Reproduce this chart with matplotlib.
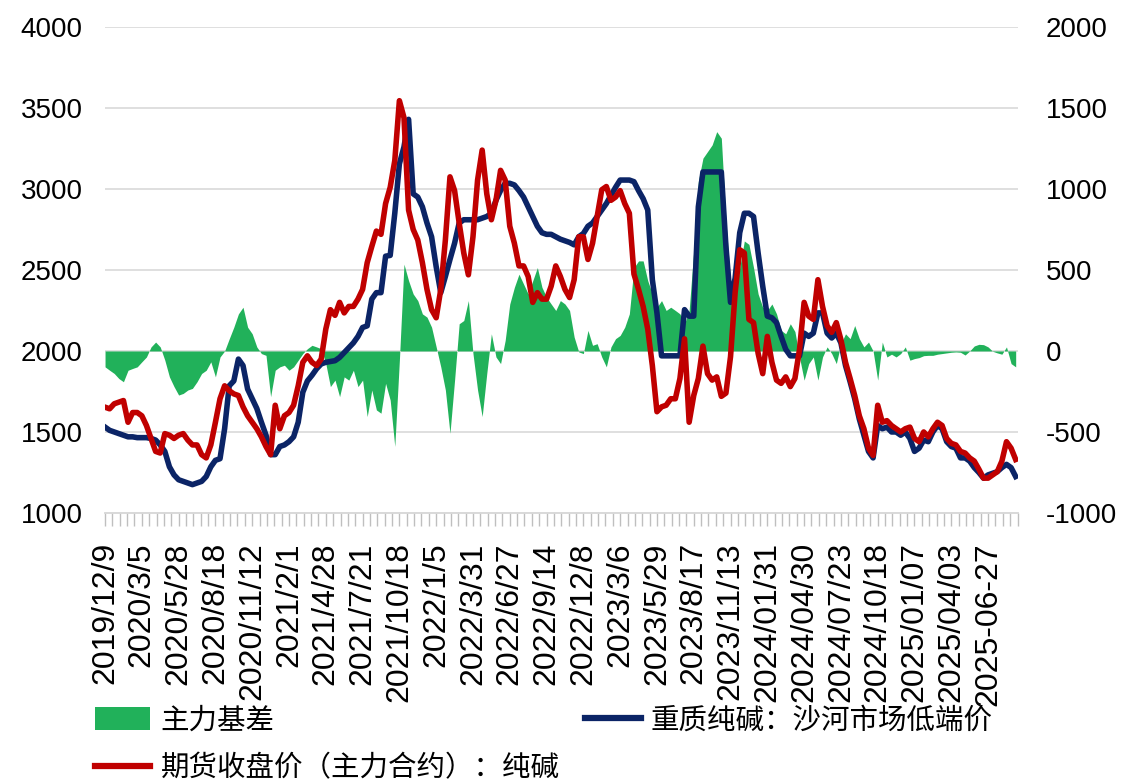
import numpy as np
import matplotlib.pyplot as plt
from matplotlib.patches import Patch
from matplotlib.lines import Line2D

plt.rcParams['font.family'] = ['Liberation Sans', 'Noto Sans CJK SC']
plt.rcParams['axes.unicode_minus'] = False

# category labels shown on the x axis (one every 8 points)
date_labels = ['2019/12/9', '2020/3/5', '2020/5/28', '2020/8/18', '2020/11/12',
               '2021/2/1', '2021/4/28', '2021/7/21', '2021/10/18', '2022/1/5',
               '2022/3/31', '2022/6/27', '2022/9/14', '2022/12/8', '2023/3/6',
               '2023/5/29', '2023/8/17', '2023/11/13', '2024/01/31', '2024/04/30',
               '2024/07/23', '2024/10/18', '2025/01/07', '2025/04/03', '2025-06-27']

# 重质纯碱：沙河市场低端价 (left axis)
spot = [1530, 1510, 1500, 1490, 1480, 1470, 1470, 1465, 1465, 1465,
        1460, 1450, 1420, 1380, 1285, 1235, 1205, 1195, 1185, 1175,
        1185, 1195, 1225, 1285, 1325, 1335, 1520, 1785, 1815, 1950,
        1910, 1765, 1705, 1645, 1560, 1480, 1360, 1360, 1410, 1420,
        1440, 1470, 1560, 1745, 1815, 1850, 1890, 1920, 1930, 1935,
        1940, 1960, 1990, 2020, 2050, 2090, 2145, 2155, 2320, 2360,
        2360, 2585, 2590, 2850, 3155, 3260, 3430, 2970, 2950, 2890,
        2790, 2705, 2520, 2360, 2460, 2565, 2665, 2790, 2810, 2810,
        2810, 2810, 2820, 2830, 2850, 2930, 2990, 3035, 3035, 3025,
        2990, 2950, 2890, 2830, 2770, 2730, 2720, 2720, 2705, 2690,
        2680, 2670, 2655, 2705, 2725, 2770, 2790, 2830, 2870, 2910,
        2960, 3010, 3055, 3055, 3055, 3045, 2990, 2940, 2870, 2440,
        2235, 1970, 1970, 1970, 1970, 1970, 2255, 2215, 2215, 2890,
        3105, 3105, 3105, 3105, 3105, 2645, 2300, 2450, 2730, 2850,
        2850, 2830, 2605, 2400, 2215, 2205, 2175, 2090, 2010, 1970,
        1970, 1970, 2110, 2090, 2110, 2235, 2235, 2110, 2080, 2110,
        2050, 1910, 1810, 1705, 1580, 1480, 1380, 1340, 1540, 1520,
        1530, 1500, 1500, 1480, 1500, 1460, 1380, 1400, 1450, 1440,
        1500, 1540, 1520, 1440, 1410, 1400, 1340, 1340, 1320, 1280,
        1250, 1215, 1235, 1245, 1255, 1280, 1300, 1280, 1225]

# 期货收盘价（主力合约）：纯碱 (left axis)
futures = [1653, 1643, 1674, 1684, 1694, 1560, 1620, 1620, 1600, 1540,
           1460, 1380, 1370, 1490, 1480, 1460, 1480, 1490, 1450, 1420,
           1420, 1360, 1340, 1420, 1560, 1705, 1785, 1755, 1735, 1725,
           1655, 1600, 1560, 1520, 1470, 1410, 1360, 1665, 1520, 1600,
           1620, 1665, 1785, 1930, 1970, 1930, 1910, 1950, 2135, 2255,
           2220, 2300, 2235, 2275, 2275, 2320, 2380, 2545, 2645, 2740,
           2720, 2910, 3010, 3175, 3545, 3440, 2870, 2750, 2685, 2545,
           2380, 2255, 2205, 2380, 2685, 3075, 2990, 2790, 2605, 2470,
           2705, 3055, 3240, 2970, 2810, 2930, 3115, 3055, 2770, 2665,
           2525, 2525, 2460, 2300, 2360, 2320, 2320, 2400, 2525, 2460,
           2380, 2330, 2440, 2705, 2705, 2565, 2665, 2830, 2995, 3015,
           2930, 2950, 2990, 2910, 2850, 2475, 2380, 2275, 2135, 1910,
           1625, 1655, 1665, 1705, 1705, 1830, 2075, 1560, 1725, 1830,
           2030, 1860, 1820, 1840, 1720, 1740, 1965, 2360, 2625, 2605,
           2195, 2175, 1985, 1860, 2090, 1930, 1820, 1800, 1840, 1780,
           1830, 2010, 2300, 2215, 2195, 2440, 2275, 2155, 2115, 2175,
           2070, 1930, 1830, 1725, 1600, 1520, 1400, 1355, 1665, 1560,
           1570, 1540, 1520, 1500, 1520, 1530, 1460, 1440, 1500, 1470,
           1520, 1560, 1540, 1460, 1430, 1420, 1380, 1370, 1340, 1320,
           1270, 1215, 1215, 1235, 1255, 1320, 1440, 1400, 1330]

# 主力基差 (right axis)
basis = [-98, -119, -139, -170, -190, -119, -108, -98, -67, -37,
         25, 55, 25, -57, -160, -220, -272, -262, -241, -231,
         -190, -139, -119, -67, -160, -37, 0, 75, 147, 229,
         270, 147, 106, 25, -16, -27, -282, -119, -98, -88,
         -119, -98, -57, -16, 14, 35, 25, 14, -78, -220,
         -180, -282, -160, -180, -119, -220, -180, -405, -241, -364,
         -384, -200, -303, -589, -57, 536, 434, 352, 311, 229,
         209, 147, 25, -98, -241, -508, -180, 168, 188, 311,
         -16, -241, -405, -139, 106, -37, -78, 65, 290, 393,
         474, 413, 352, 434, 515, 393, 331, 290, 250, 311,
         290, 250, 86, -6, -16, 127, 35, 45, -37, -98,
         25, 76, 96, 147, 229, 515, 556, 556, 434, 352,
         270, 311, 250, 270, 250, 229, 168, 250, 618, 1047,
         1190, 1231, 1272, 1354, 1313, 802, 434, 331, 515, 679,
         658, 515, 352, 270, 250, 290, 229, 127, 106, 168,
         120, -40, -180, -78, -37, -180, -37, 25, -16, -78,
         45, 106, 76, 157, 76, 25, 55, 0, -180, 55,
         -37, -20, -37, -16, 25, -57, -47, -41, -29, -27,
         -27, -20, -16, -12, -8, -6, -8, -25, 0, 31,
         41, 39, 25, -2, -12, -20, 25, -78, -98]

green = '#21B15A'
navy = '#0B2466'
red = '#C00000'

x = np.arange(len(spot))
label_pos = np.arange(len(date_labels)) * 8

fig = plt.figure(figsize=(11.21, 7.84), dpi=100)
ax1 = fig.add_axes([0.0937, 0.3457, 0.8144, 0.6199])
ax2 = ax1.twinx()
ax1.set_zorder(ax2.get_zorder() + 1)
ax1.patch.set_visible(False)

# basis area on the right axis, behind the lines
ax2.fill_between(x, 0, basis, color=green, lw=0, zorder=2)
ax2.set_ylim(-1000, 2000)
ax2.set_yticks(np.arange(-1000, 2001, 500))
ax2.yaxis.grid(True, color='#D9D9D9', lw=1.2, zorder=0)
ax2.set_axisbelow(True)

# price lines on the left axis
ax1.plot(x, spot, color=navy, lw=4.0, solid_joinstyle='round', zorder=3)
ax1.plot(x, futures, color=red, lw=4.0, solid_joinstyle='round', zorder=4)
ax1.set_ylim(1000, 4000)
ax1.set_yticks(np.arange(1000, 4001, 500))
ax1.set_xlim(0, 198.5)

ax1.set_xticks(label_pos)
ax1.set_xticklabels(date_labels, rotation=90, fontsize=23)
ax1.set_xticks(np.arange(0, 199, 1.6), minor=True)
ax1.tick_params(axis='x', which='both', direction='out', length=9,
                color='#BFBFBF', width=1)
ax1.tick_params(axis='x', which='major', pad=12)
ax1.tick_params(axis='y', length=0, pad=16, labelsize=20)
ax2.tick_params(axis='y', length=0, pad=20, labelsize=20)

for ax in (ax1, ax2):
    for s in ('left', 'right', 'top'):
        ax.spines[s].set_visible(False)
    ax.spines['bottom'].set_color('#D9D9D9')
    ax.spines['bottom'].set_linewidth(1.2)

handles = [Patch(facecolor=green, edgecolor='none'),
           Line2D([], [], color=red, lw=4.5),
           Line2D([], [], color=navy, lw=4.5)]
labels = ['主力基差', '期货收盘价（主力合约）：纯碱', '重质纯碱：沙河市场低端价']
fig.legend(handles, labels, ncol=2, loc='upper left',
           bbox_to_anchor=(0.0847, 0.1), frameon=False,
           prop={'family': ['Noto Sans CJK SC'], 'size': 20.5},
           handlelength=1.95, handleheight=0.85, handletextpad=0.35,
           columnspacing=0.9, labelspacing=0.62, borderpad=0, borderaxespad=0)

fig.savefig('out.png', dpi=100)
